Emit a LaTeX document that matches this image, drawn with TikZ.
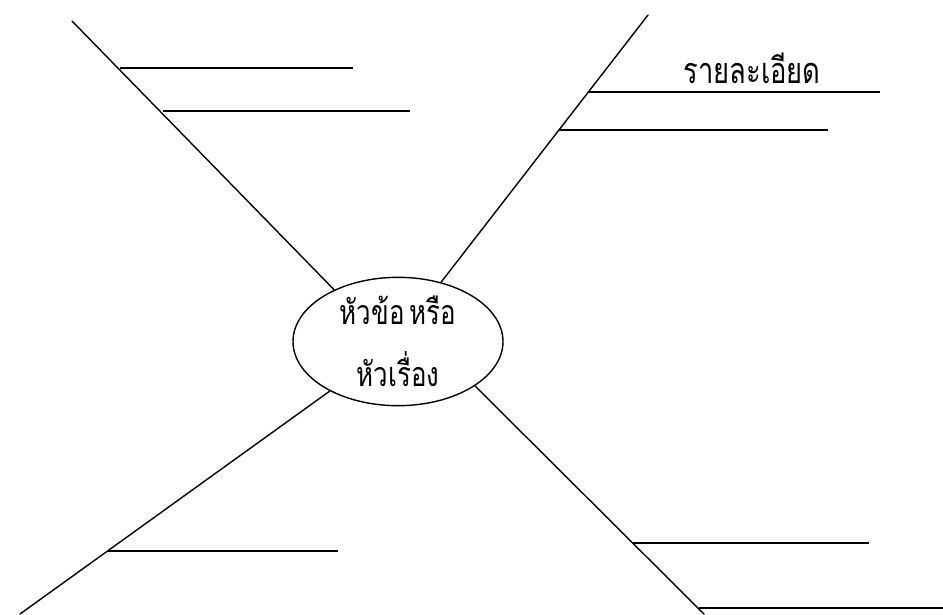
\documentclass[tikz,border=0pt]{standalone}
\usepackage{fontspec}
\newfontfamily\thaifont[Script=Thai,FakeStretch=0.76]{Loma}
\usetikzlibrary{shapes.geometric}
\begin{document}
\begin{tikzpicture}[x=1pt,y=-1pt,
  spoke/.style={line width=1.4pt, line cap=round},
  twig/.style={line width=1.4pt},
  topic/.style={ellipse, draw, line width=1.4pt, minimum width=210pt,
    minimum height=117pt, inner sep=0pt, align=center,
    font=\thaifont\fontsize{34}{62}\selectfont},
  note/.style={font=\thaifont\fontsize{36}{40}\selectfont, inner sep=0pt,
    anchor=base}]
\useasboundingbox (0,0) rectangle (943,614);

% central topic
\node[topic] (e) at (398,341.5) {หัวข้อ\hspace{0.15em}หรือ\\หัวเรื่อง};

% outer ends of the four main spokes
\coordinate (tl) at (72,21);
\coordinate (tr) at (648,15);
\coordinate (bl) at (20,614);
\coordinate (br) at (704,614);

\draw[spoke] (tl) -- (e.141.7);
\draw[spoke] (tr) -- (e.54.7);
\draw[spoke] (bl) -- (e.216.2);
\draw[spoke] (br) -- (e.330.5);

% detail lines hanging off each spoke
\coordinate (tl1) at (120,68);   \coordinate (tl1e) at (353,68);
\coordinate (tl2) at (163,111);  \coordinate (tl2e) at (410,111);
\coordinate (tr1) at (589,92);   \coordinate (tr1e) at (880,92);
\coordinate (tr2) at (559,130);  \coordinate (tr2e) at (828,130);
\coordinate (bl1) at (108,551);  \coordinate (bl1e) at (338,551);
\coordinate (br1) at (633,543);  \coordinate (br1e) at (869,543);
\coordinate (br2) at (699,608);  \coordinate (br2e) at (943,608);

\draw[twig] (tl1) -- (tl1e);
\draw[twig] (tl2) -- (tl2e);
\draw[twig] (tr1) -- (tr1e);
\draw[twig] (tr2) -- (tr2e);
\draw[twig] (bl1) -- (bl1e);
\draw[twig] (br1) -- (br1e);
\draw[twig] (br2) -- (br2e);

\node[note] (detail) at (752,83) {รายละเอียด};
\end{tikzpicture}
\end{document}
